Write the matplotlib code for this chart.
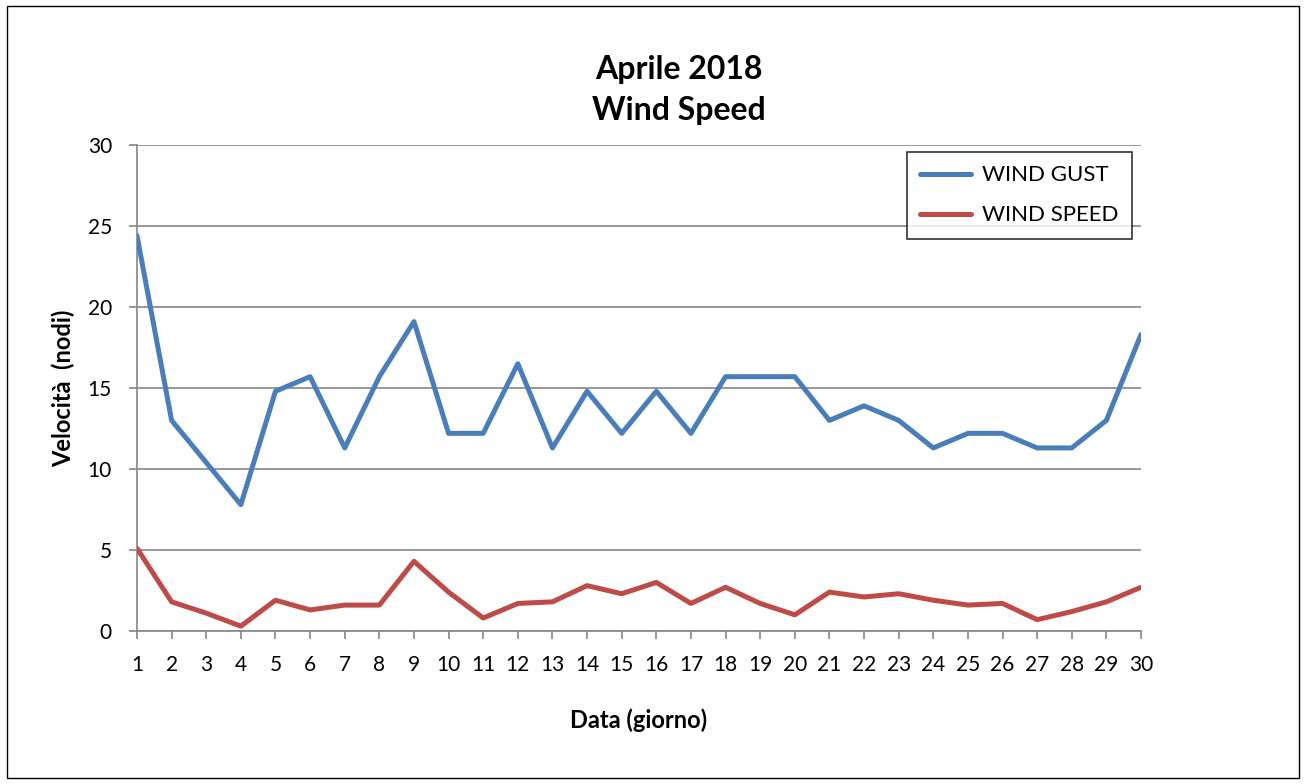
import matplotlib.pyplot as plt
from matplotlib.patches import Rectangle

plt.rcParams['font.family'] = ['Lato', 'DejaVu Sans']

# giorni di aprile
days = list(range(1, 31))

wind_gust = [24.4, 13.0, 10.4, 7.8, 14.8, 15.7, 11.3, 15.7, 19.1, 12.2,
             12.2, 16.5, 11.3, 14.8, 12.2, 14.8, 12.2, 15.7, 15.7, 15.7,
             13.0, 13.9, 13.0, 11.3, 12.2, 12.2, 11.3, 11.3, 13.0, 18.3]

wind_speed = [5.1, 1.8, 1.1, 0.3, 1.9, 1.3, 1.6, 1.6, 4.3, 2.4,
              0.8, 1.7, 1.8, 2.8, 2.3, 3.0, 1.7, 2.7, 1.7, 1.0,
              2.4, 2.1, 2.3, 1.9, 1.6, 1.7, 0.7, 1.2, 1.8, 2.7]

y_ticks = [0, 5, 10, 15, 20, 25, 30]

fig = plt.figure(figsize=(13.06, 7.84), dpi=100)
ax = fig.add_axes([137 / 1306, 1 - 631 / 784, 1004 / 1306, 486 / 784])

# bordo esterno
fig.patches.append(Rectangle((7 / 1306, 6 / 784), 1292 / 1306, 772 / 784,
                             transform=fig.transFigure, fill=False,
                             edgecolor='black', linewidth=1))

ax.plot(days, wind_gust, color='#4A7EBB', linewidth=3.6, label='WIND GUST',
        solid_joinstyle='round', solid_capstyle='round', zorder=3)
ax.plot(days, wind_speed, color='#BE4B48', linewidth=3.6, label='WIND SPEED',
        solid_joinstyle='round', solid_capstyle='round', zorder=3)

ax.set_xlim(1, 30)
ax.set_ylim(0, 30)
ax.set_xticks(days)
ax.set_yticks(y_ticks)
ax.tick_params(axis='both', labelsize=15, color='#868686', length=6, width=1.2)
ax.tick_params(axis='x', pad=11)
ax.tick_params(axis='y', pad=12)
ax.grid(axis='y', color='#868686', linewidth=1.2)
ax.set_axisbelow(True)
for s in ['top', 'right']:
    ax.spines[s].set_visible(False)
for s in ['left', 'bottom']:
    ax.spines[s].set_color('#868686')
    ax.spines[s].set_linewidth(1.2)

ax.set_xlabel('Data (giorno)', fontsize=17, fontweight='bold', labelpad=24)
ax.set_ylabel('Velocità  (nodi)', fontsize=17, fontweight='bold', labelpad=9)

fig.text(679 / 1306, 1 - 90 / 784, 'Aprile 2018\nWind Speed', ha='center', va='center',
         fontsize=23, fontweight='bold', linespacing=1.5)

leg = ax.legend(loc='upper right', bbox_to_anchor=(1132 / 1306, 1 - 152 / 784),
                bbox_transform=fig.transFigure, fontsize=16, frameon=True,
                fancybox=False, edgecolor='black', borderpad=0.6, borderaxespad=0,
                handlelength=2.3, handletextpad=0.5, labelspacing=0.9)
leg.get_frame().set_linewidth(1.2)

fig.savefig('out.png', dpi=100, facecolor='white')
